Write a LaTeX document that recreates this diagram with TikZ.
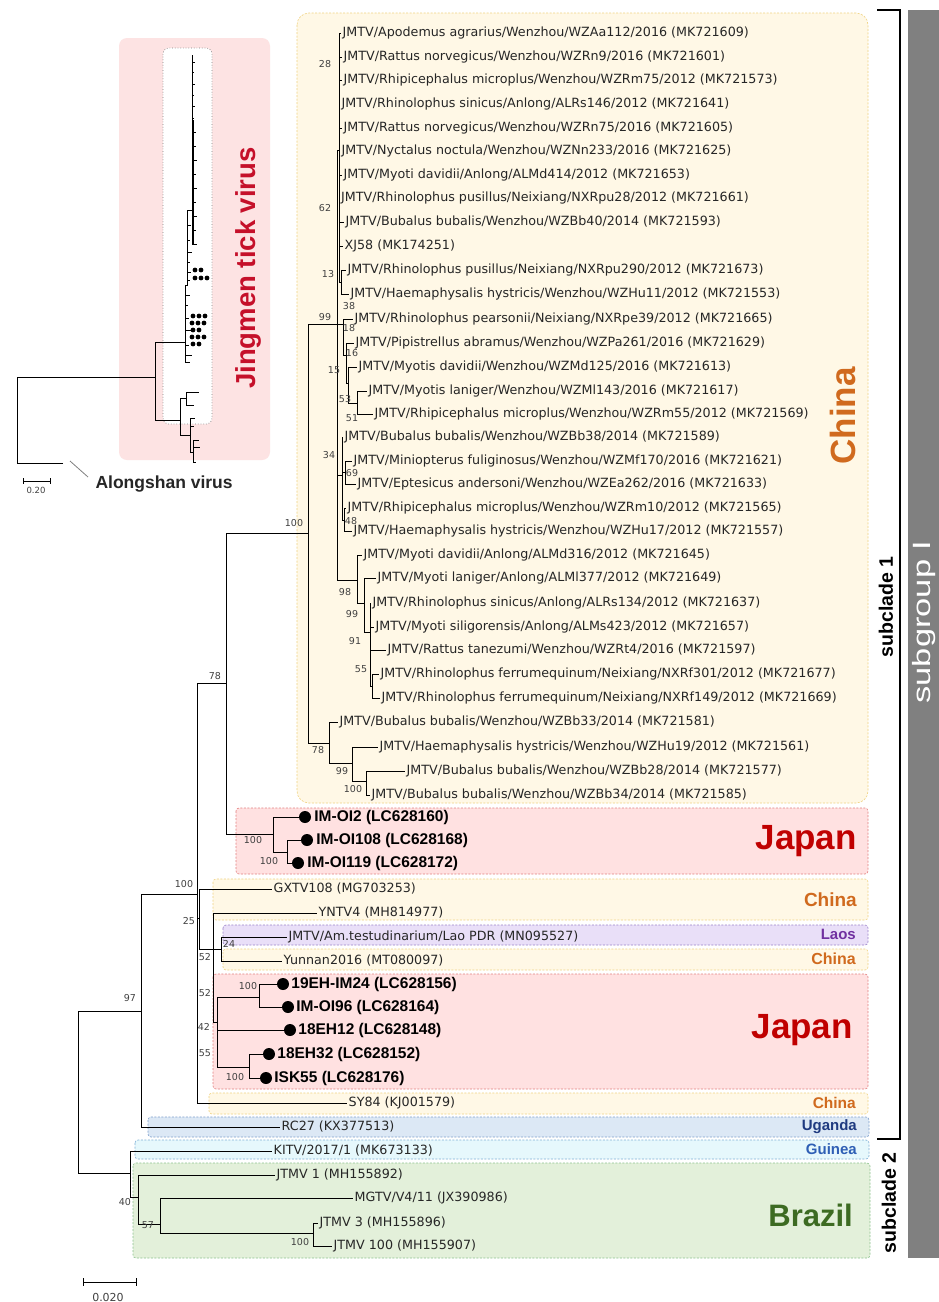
\documentclass[tikz,border=0pt]{standalone}
\usepackage{fontspec}
\usepackage{graphicx}
\newfontfamily\leaffont{DejaVu Sans}
\newfontfamily\headfont{Liberation Sans}
\usetikzlibrary{positioning}

\definecolor{chinafill}{HTML}{FFF8E6}
\definecolor{chinaline}{HTML}{F0D382}
\definecolor{chinatext}{HTML}{D06A1E}
\definecolor{japanfill}{HTML}{FFE1E1}
\definecolor{japanline}{HTML}{E28080}
\definecolor{japantext}{HTML}{C00000}
\definecolor{laosfill}{HTML}{E9DFF8}
\definecolor{laosline}{HTML}{9B82C9}
\definecolor{laostext}{HTML}{7030A0}
\definecolor{ugandafill}{HTML}{DCE8F5}
\definecolor{ugandaline}{HTML}{7F9FCC}
\definecolor{ugandatext}{HTML}{1F3A80}
\definecolor{guineafill}{HTML}{E6F8FC}
\definecolor{guinealine}{HTML}{7FB0D6}
\definecolor{guineatext}{HTML}{2E5FB5}
\definecolor{brazilfill}{HTML}{E3F0DA}
\definecolor{brazilline}{HTML}{8DC28F}
\definecolor{braziltext}{HTML}{3D6B22}
\definecolor{insetfill}{HTML}{FDE3E3}
\definecolor{insettext}{HTML}{C5102A}
\definecolor{bargray}{HTML}{808080}

\tikzset{
  br/.style={line width=1pt},
  leaf/.style={anchor=west, inner sep=1.5pt, font=\leaffont\fontsize{12.7}{14}\selectfont, text=black!85},
  jleaf/.style={anchor=west, inner sep=1pt, font=\headfont\bfseries\fontsize{15.5}{17}\selectfont},
  dot/.style={circle, fill=black, inner sep=0pt, minimum size=12pt},
  bs/.style={inner sep=0pt, font=\leaffont\fontsize{9.5}{10}\selectfont, text=black!75},
  region/.style={dash pattern=on 2pt off 1.5pt, line width=0.6pt, rounded corners=3pt},
  country/.style={anchor=east, inner sep=0pt},
}

\begin{document}
\begin{tikzpicture}[x=1pt, y=-1pt]
        \useasboundingbox (0,0) rectangle (939,1302);
        \fill[white] (0,0) rectangle (939,1302);

        % country boxes
        \draw[region, rounded corners=12pt, draw=chinaline, fill=chinafill] (297,13) rectangle (868,803);
        \draw[region, draw=japanline, fill=japanfill] (236,808) rectangle (868,874);
        \draw[region, draw=chinaline, fill=chinafill] (213,879) rectangle (868,920);
        \draw[region, draw=laosline, fill=laosfill] (223,925) rectangle (868,945);
        \draw[region, draw=chinaline, fill=chinafill] (223,949) rectangle (868,970);
        \draw[region, draw=japanline, fill=japanfill] (213,974) rectangle (868,1089);
        \draw[region, draw=chinaline, fill=chinafill] (209,1093) rectangle (868,1114);
        \draw[region, draw=ugandaline, fill=ugandafill] (148,1117) rectangle (869,1137);
        \draw[region, draw=guinealine, fill=guineafill] (135,1140) rectangle (869,1159);
        \draw[region, draw=brazilline, fill=brazilfill] (133,1163) rectangle (870,1258);

        \node[country, rotate=90, anchor=center, text=chinatext, font=\headfont\bfseries\fontsize{35}{38}\selectfont] (cn1) at (843,416) {China};
        \node[country, text=japantext, font=\headfont\bfseries\fontsize{35}{38}\selectfont] (jp1) at (857,841) {Japan};
        \node[country, text=chinatext, font=\headfont\bfseries\fontsize{19}{21}\selectfont] (cn2) at (857,900) {China};
        \node[country, text=laostext, font=\headfont\bfseries\fontsize{15}{17}\selectfont] (lao) at (856,934) {Laos};
        \node[country, text=chinatext, font=\headfont\bfseries\fontsize{16}{18}\selectfont] (cn3) at (856,959) {China};
        \node[country, text=japantext, font=\headfont\bfseries\fontsize{35}{38}\selectfont] (jp2) at (853,1030) {Japan};
        \node[country, text=chinatext, font=\headfont\bfseries\fontsize{15.5}{17}\selectfont] (cn4) at (856,1103) {China};
        \node[country, text=ugandatext, font=\headfont\bfseries\fontsize{15}{17}\selectfont] (uga) at (857,1127) {Uganda};
        \node[country, text=guineatext, font=\headfont\bfseries\fontsize{15}{17}\selectfont] (gui) at (857,1149) {Guinea};
        \node[country, text=braziltext, font=\headfont\bfseries\fontsize{31}{34}\selectfont] (bra) at (853,1215) {Brazil};

        % subclade brackets and subgroup bar
        \coordinate (s1top) at (877,10);
        \coordinate (s1bot) at (877,1139);
        \draw[line width=2.2pt] (s1top) -- ++(23,0) |- (s1bot);
        \node[rotate=90, font=\headfont\bfseries\fontsize{19.5}{21}\selectfont] (sc1) at (886,607) {subclade 1};
        \node[rotate=90, font=\headfont\bfseries\fontsize{19.5}{21}\selectfont] (sc2) at (889,1203) {subclade 2};
        \fill[bargray] (908,10) rectangle (939,1258);
        \node[rotate=90, text=white, font=\headfont\fontsize{25}{27}\selectfont] (sgI) at (924,622) {\scalebox{1.38}[1]{subgroup I}};

        % inset: whole tree
        \fill[insetfill, rounded corners=8pt] (119,38) rectangle (270,460);
        \draw[gray, dotted, fill=white, rounded corners=6pt, line width=0.7pt] (163,48) rectangle (212,424);
        \node[rotate=90, font=\headfont\bfseries\fontsize{27.5}{29}\selectfont, text=insettext] (jtv) at (248,268) {Jingmen tick virus};
        \draw[line width=1pt] (63,463) -| (17,377) -| (155,342) -- (185,342);
        \draw[line width=1pt] (155,377) |- (180,420);
        \draw[line width=0.8pt] (185,285) -- (185,362);
        \draw[line width=0.6pt] (185,295) -- ++(5,0) (185,305) -- ++(3,0) (185,318) -- ++(4,0) (185,330) -- ++(6,0)
              (185,345) -- ++(4,0) (185,355) -- ++(7,0) (185,362) -- ++(5,0);
        \draw[line width=0.8pt] (185,285) -| (187,210);
        \draw[line width=0.6pt] (187,225) -- ++(4,0) (187,240) -- ++(3,0) (187,252) -- ++(5,0) (187,262) -- ++(3,0)
              (187,272) -- ++(4,0) (187,280) -- ++(3,0);
        \draw[line width=0.8pt] (187,210) -| (192,55);
        \draw[line width=1.6pt] (193,120) -- (193,245);
        \draw[line width=0.5pt] (192,62) -- ++(3,0) (192,72) -- ++(2,0) (192,84) -- ++(3,0) (192,95) -- ++(2,0)
              (192,106) -- ++(3,0) (192,118) -- ++(2,0) (193,132) -- ++(3,0) (193,146) -- ++(3,0)
              (193,160) -- ++(4,0) (193,174) -- ++(3,0) (193,188) -- ++(4,0) (193,202) -- ++(3,0)
              (193,216) -- ++(4,0) (193,230) -- ++(3,0) (193,244) -- ++(4,0);
        \fill (195,270) circle[radius=2.4pt] (201,270) circle[radius=2.4pt]
              (195,278) circle[radius=2.4pt] (201,278) circle[radius=2.4pt] (207,278) circle[radius=2.4pt];
        \fill (193,316) circle[radius=2.4pt] (199,316) circle[radius=2.4pt] (205,316) circle[radius=2.4pt]
              (192,323) circle[radius=2.4pt] (198,323) circle[radius=2.4pt] (204,323) circle[radius=2.4pt]
              (193,330) circle[radius=2.4pt] (199,330) circle[radius=2.4pt]
              (192,337) circle[radius=2.4pt] (198,337) circle[radius=2.4pt] (204,337) circle[radius=2.4pt]
              (193,344) circle[radius=2.4pt] (199,344) circle[radius=2.4pt];
        \draw[line width=0.8pt] (180,398) -- (180,435);
        \draw[line width=0.7pt] (180,398) -| (186,392) -- (199,392) (186,398) |- (194,405);
        \draw[line width=0.7pt] (180,435) -| (190,418) -- (195,418) (190,435) |- (193,452)
              (193,440) -- (193,462) (193,440) -- ++(6,0) (193,447) -- ++(7,0) (193,462) -- ++(3,0) (190,426) -- ++(4,0);
        \draw[line width=0.7pt] (23,478) -- (23,484) (23,481) -- (50,481) (50,478) -- (50,484);
        \node[bs, font=\leaffont\fontsize{8.5}{9}\selectfont] (scin) at (36,490) {0.20};
        \draw[gray, line width=0.8pt] (70,461) -- (88,477);
        \node[anchor=west, font=\headfont\bfseries\fontsize{17.5}{19}\selectfont, text=black!85] (als) at (92,484) {Alongshan virus};

        % China leaves
        \node[leaf] (L1) at (341,33) {JMTV/Apodemus agrarius/Wenzhou/WZAa112/2016 (MK721609)};
        \node[leaf] (L2) at (342,57) {JMTV/Rattus norvegicus/Wenzhou/WZRn9/2016 (MK721601)};
        \node[leaf] (L3) at (342,80) {JMTV/Rhipicephalus microplus/Wenzhou/WZRm75/2012 (MK721573)};
        \node[leaf] (L4) at (340,104) {JMTV/Rhinolophus sinicus/Anlong/ALRs146/2012 (MK721641)};
        \node[leaf] (L5) at (342,128) {JMTV/Rattus norvegicus/Wenzhou/WZRn75/2016 (MK721605)};
        \node[leaf] (L6) at (340,151) {JMTV/Nyctalus noctula/Wenzhou/WZNn233/2016 (MK721625)};
        \node[leaf] (L7) at (342,175) {JMTV/Myoti davidii/Anlong/ALMd414/2012 (MK721653)};
        \node[leaf] (L8) at (339.5,198) {JMTV/Rhinolophus pusillus/Neixiang/NXRpu28/2012 (MK721661)};
        \node[leaf] (L9) at (344,222) {JMTV/Bubalus bubalis/Wenzhou/WZBb40/2014 (MK721593)};
        \node[leaf] (L10) at (343,246) {XJ58 (MK174251)};
        \node[leaf] (L11) at (346,270) {JMTV/Rhinolophus pusillus/Neixiang/NXRpu290/2012 (MK721673)};
        \node[leaf] (L12) at (349,294) {JMTV/Haemaphysalis hystricis/Wenzhou/WZHu11/2012 (MK721553)};
        \node[leaf] (L13) at (353,319) {JMTV/Rhinolophus pearsonii/Neixiang/NXRpe39/2012 (MK721665)};
        \node[leaf] (L14) at (354,343) {JMTV/Pipistrellus abramus/Wenzhou/WZPa261/2016 (MK721629)};
        \node[leaf] (L15) at (357,367) {JMTV/Myotis davidii/Wenzhou/WZMd125/2016 (MK721613)};
        \node[leaf] (L16) at (367,391) {JMTV/Myotis laniger/Wenzhou/WZMl143/2016 (MK721617)};
        \node[leaf] (L17) at (373,414) {JMTV/Rhipicephalus microplus/Wenzhou/WZRm55/2012 (MK721569)};
        \node[leaf] (L18) at (343,437) {JMTV/Bubalus bubalis/Wenzhou/WZBb38/2014 (MK721589)};
        \node[leaf] (L19) at (352,461) {JMTV/Miniopterus fuliginosus/Wenzhou/WZMf170/2016 (MK721621)};
        \node[leaf] (L20) at (356,484) {JMTV/Eptesicus andersoni/Wenzhou/WZEa262/2016 (MK721633)};
        \node[leaf] (L21) at (346,508) {JMTV/Rhipicephalus microplus/Wenzhou/WZRm10/2012 (MK721565)};
        \node[leaf] (L22) at (352,531) {JMTV/Haemaphysalis hystricis/Wenzhou/WZHu17/2012 (MK721557)};
        \node[leaf] (L23) at (362,555) {JMTV/Myoti davidii/Anlong/ALMd316/2012 (MK721645)};
        \node[leaf] (L24) at (376,578) {JMTV/Myoti laniger/Anlong/ALMl377/2012 (MK721649)};
        \node[leaf] (L25) at (371,603) {JMTV/Rhinolophus sinicus/Anlong/ALRs134/2012 (MK721637)};
        \node[leaf] (L26) at (374,627) {JMTV/Myoti siligorensis/Anlong/ALMs423/2012 (MK721657)};
        \node[leaf] (L27) at (386,650) {JMTV/Rattus tanezumi/Wenzhou/WZRt4/2016 (MK721597)};
        \node[leaf] (L28) at (379,674) {JMTV/Rhinolophus ferrumequinum/Neixiang/NXRf301/2012 (MK721677)};
        \node[leaf] (L29) at (380,698) {JMTV/Rhinolophus ferrumequinum/Neixiang/NXRf149/2012 (MK721669)};
        \node[leaf] (L30) at (338,722) {JMTV/Bubalus bubalis/Wenzhou/WZBb33/2014 (MK721581)};
        \node[leaf] (L31) at (378,747) {JMTV/Haemaphysalis hystricis/Wenzhou/WZHu19/2012 (MK721561)};
        \node[leaf] (L32) at (405,771) {JMTV/Bubalus bubalis/Wenzhou/WZBb28/2014 (MK721577)};
        \node[leaf] (L33) at (370,795) {JMTV/Bubalus bubalis/Wenzhou/WZBb34/2014 (MK721585)};

        % Japan leaves (dots)
        \node[dot] (d34) at (305,817) {};
        \node[dot] (d35) at (307,840) {};
        \node[dot] (d36) at (298,863) {};
        \node[dot] (d41) at (283,984) {};
        \node[dot] (d42) at (288,1007) {};
        \node[dot] (d43) at (290,1030) {};
        \node[dot] (d44) at (269,1054) {};
        \node[dot] (d45) at (266,1078) {};
        \node[jleaf, right=2pt of d34] (L34) {IM-OI2 (LC628160)};
        \node[jleaf, right=2pt of d35] (L35) {IM-OI108 (LC628168)};
        \node[jleaf, right=2pt of d36] (L36) {IM-OI119 (LC628172)};
        \node[jleaf, right=1pt of d41] (L41) {19EH-IM24 (LC628156)};
        \node[jleaf, right=1pt of d42] (L42) {IM-OI96 (LC628164)};
        \node[jleaf, right=1pt of d43] (L43) {18EH12 (LC628148)};
        \node[jleaf, right=1pt of d44] (L44) {18EH32 (LC628152)};
        \node[jleaf, right=1pt of d45] (L45) {ISK55 (LC628176)};

        % other leaves
        \node[leaf] (L37) at (272,889) {GXTV108 (MG703253)};
        \node[leaf] (L38) at (317,913) {YNTV4 (MH814977)};
        \node[leaf] (L39) at (287,937) {JMTV/Am.testudinarium/Lao PDR (MN095527)};
        \node[leaf] (L40) at (282,961) {Yunnan2016 (MT080097)};
        \node[leaf] (L46) at (347,1103) {SY84 (KJ001579)};
        \node[leaf] (L47) at (280,1127) {RC27 (KX377513)};
        \node[leaf] (L48) at (272,1151) {KITV/2017/1 (MK673133)};
        \node[leaf] (L49) at (275,1175) {JTMV 1 (MH155892)};
        \node[leaf] (L50) at (353,1198) {MGTV/V4/11 (JX390986)};
        \node[leaf] (L51) at (318,1223) {JTMV 3 (MH155896)};
        \node[leaf] (L52) at (332,1246) {JTMV 100 (MH155907)};

        % internal nodes
        \coordinate (root) at (78,1092);
        \coordinate (n97) at (141,1011);
        \coordinate (n100a) at (197,894);
        \coordinate (n78) at (226,683);
        \coordinate (n25) at (199,918);
        \coordinate (nA) at (213,949);
        \coordinate (n24) at (221,949);
        \coordinate (nJ) at (217,1022);
        \coordinate (n19) at (259,997);
        \coordinate (n18b) at (249,1067);
        \coordinate (nIM) at (273,834);
        \coordinate (nIM2) at (287,852);
        \coordinate (nChina) at (308,533);
        \coordinate (n99) at (337,324);
        \coordinate (nTop) at (339,150);
        \coordinate (n13) at (341,282);
        \coordinate (n18) at (343,324);
        \coordinate (n16) at (346,355);
        \coordinate (n53) at (348,383);
        \coordinate (n51) at (357,403);
        \coordinate (n34) at (342,475);
        \coordinate (n69) at (345,472);
        \coordinate (n48) at (344,520);
        \coordinate (n98) at (357,580);
        \coordinate (n99b) at (364,603);
        \coordinate (n91) at (370,632);
        \coordinate (n55) at (372,686);
        \coordinate (n78b) at (329,743);
        \coordinate (n99c) at (352,763);
        \coordinate (n100c) at (366,781);
        \coordinate (n40) at (130,1173);
        \coordinate (n57) at (138,1197);
        \coordinate (nMG) at (160,1224);
        \coordinate (n100d) at (313,1233);

        % branches
        \draw[br] (root) |- (n97);
        \draw[br] (root) |- (n40);
        \draw[br] (n97) |- (n100a);
        \draw[br] (n97) |- (L47.west);
        \draw[br] (n100a) |- (n78);
        \draw[br] (n100a) |- (n25);
        \draw[br] (n100a) |- (L46.west);
        \draw[br] (n25) |- (L37.west);
        \draw[br] (n25) |- (nA);
        \draw[br] (nA) |- (L38.west);
        \draw[br] (nA) |- (n24);
        \draw[br] (nA) |- (nJ);
        \draw[br] (n24) |- (L39.west);
        \draw[br] (n24) |- (L40.west);
        \draw[br] (nJ) |- (n19);
        \draw[br] (nJ) |- (d43);
        \draw[br] (nJ) |- (n18b);
        \draw[br] (n19) |- (d41);
        \draw[br] (n19) |- (d42);
        \draw[br] (n18b) |- (d44);
        \draw[br] (n18b) |- (d45);
        \draw[br] (n78) |- (nChina);
        \draw[br] (n78) |- (nIM);
        \draw[br] (nIM) |- (d34);
        \draw[br] (nIM) |- (nIM2);
        \draw[br] (nIM2) |- (d35);
        \draw[br] (nIM2) |- (d36);
        \draw[br] (nChina) |- (n99);
        \draw[br] (nChina) |- (n78b);
        \draw[br] (n99) |- (nTop);
        \draw[br] (nTop) |- (L1.west);
        \draw[br] (nTop) |- (L2.west);
        \draw[br] (nTop) |- (L3.west);
        \draw[br] (nTop) |- (L4.west);
        \draw[br] (nTop) |- (L5.west);
        \draw[br] (nTop) |- (L6.west);
        \draw[br] (nTop) |- (L7.west);
        \draw[br] (nTop) |- (L8.west);
        \draw[br] (nTop) |- (L9.west);
        \draw[br] (nTop) |- (L10.west);
        \draw[br] (nTop) |- (n13);
        \draw[br] (n13) |- (L11.west);
        \draw[br] (n13) |- (L12.west);
        \draw[br] (n99) |- (n18);
        \draw[br] (n18) |- (L13.west);
        \draw[br] (n18) |- (n16);
        \draw[br] (n16) |- (L14.west);
        \draw[br] (n16) |- (n53);
        \draw[br] (n53) |- (L15.west);
        \draw[br] (n53) |- (n51);
        \draw[br] (n51) |- (L16.west);
        \draw[br] (n51) |- (L17.west);
        \draw[br] (n99) |- (n34);
        \draw[br] (n34) |- (L18.west);
        \draw[br] (n34) |- (n69);
        \draw[br] (n34) |- (n48);
        \draw[br] (n69) |- (L19.west);
        \draw[br] (n69) |- (L20.west);
        \draw[br] (n48) |- (L21.west);
        \draw[br] (n48) |- (L22.west);
        \draw[br] (n99) |- (n98);
        \draw[br] (n98) |- (L23.west);
        \draw[br] (n98) |- (n99b);
        \draw[br] (n99b) |- (L24.west);
        \draw[br] (n99b) |- (n91);
        \draw[br] (n91) |- (L25.west);
        \draw[br] (n91) |- (L26.west);
        \draw[br] (n91) |- (L27.west);
        \draw[br] (n91) |- (n55);
        \draw[br] (n55) |- (L28.west);
        \draw[br] (n55) |- (L29.west);
        \draw[br] (n78b) |- (L30.west);
        \draw[br] (n78b) |- (n99c);
        \draw[br] (n99c) |- (L31.west);
        \draw[br] (n99c) |- (n100c);
        \draw[br] (n100c) |- (L32.west);
        \draw[br] (n100c) |- (L33.west);
        \draw[br] (n40) |- (L48.west);
        \draw[br] (n40) |- (n57);
        \draw[br] (n57) |- (L49.west);
        \draw[br] (n57) |- (nMG);
        \draw[br] (nMG) |- (L50.west);
        \draw[br] (nMG) |- (n100d);
        \draw[br] (n100d) |- (L51.west);
        \draw[br] (n100d) |- (L52.west);

        % bootstrap values
        \node[bs] (b1) at (130,998) {97};
        \node[bs] (b2) at (184,884) {100};
        \node[bs] (b3) at (189,921) {25};
        \node[bs] (b4) at (205,957) {52};
        \node[bs] (b5) at (229,944) {24};
        \node[bs] (b6) at (205,993) {52};
        \node[bs] (b7) at (204,1027) {42};
        \node[bs] (b8) at (205,1053) {55};
        \node[bs] (b9) at (248,986) {100};
        \node[bs] (b10) at (235,1077) {100};
        \node[bs] (b11) at (215,676) {78};
        \node[bs] (b12) at (253,840) {100};
        \node[bs] (b13) at (269,861) {100};
        \node[bs] (b14) at (294,523) {100};
        \node[bs] (b15) at (325,317) {99};
        \node[bs] (b16) at (325,64) {28};
        \node[bs] (b17) at (325,208) {62};
        \node[bs] (b18) at (328,274) {13};
        \node[bs] (b19) at (349,306) {38};
        \node[bs] (b20) at (349,328) {18};
        \node[bs] (b21) at (352,353) {16};
        \node[bs] (b22) at (334,370) {15};
        \node[bs] (b23) at (345,399) {53};
        \node[bs] (b24) at (352,418) {51};
        \node[bs] (b25) at (329,455) {34};
        \node[bs] (b26) at (352,473) {69};
        \node[bs] (b27) at (351,521) {48};
        \node[bs] (b28) at (345,592) {98};
        \node[bs] (b29) at (352,614) {99};
        \node[bs] (b30) at (355,641) {91};
        \node[bs] (b31) at (361,669) {55};
        \node[bs] (b32) at (318,750) {78};
        \node[bs] (b33) at (342,771) {99};
        \node[bs] (b34) at (353,789) {100};
        \node[bs] (b35) at (125,1202) {40};
        \node[bs] (b36) at (148,1225) {57};
        \node[bs] (b37) at (300,1242) {100};

        % scale bar
        \draw[line width=0.8pt] (83,1278) -- (83,1286) (83,1282) -- (136,1282) (136,1278) -- (136,1286);
        \node[bs, font=\leaffont\fontsize{11}{12}\selectfont] (scl) at (108,1297) {0.020};
\end{tikzpicture}
\end{document}
